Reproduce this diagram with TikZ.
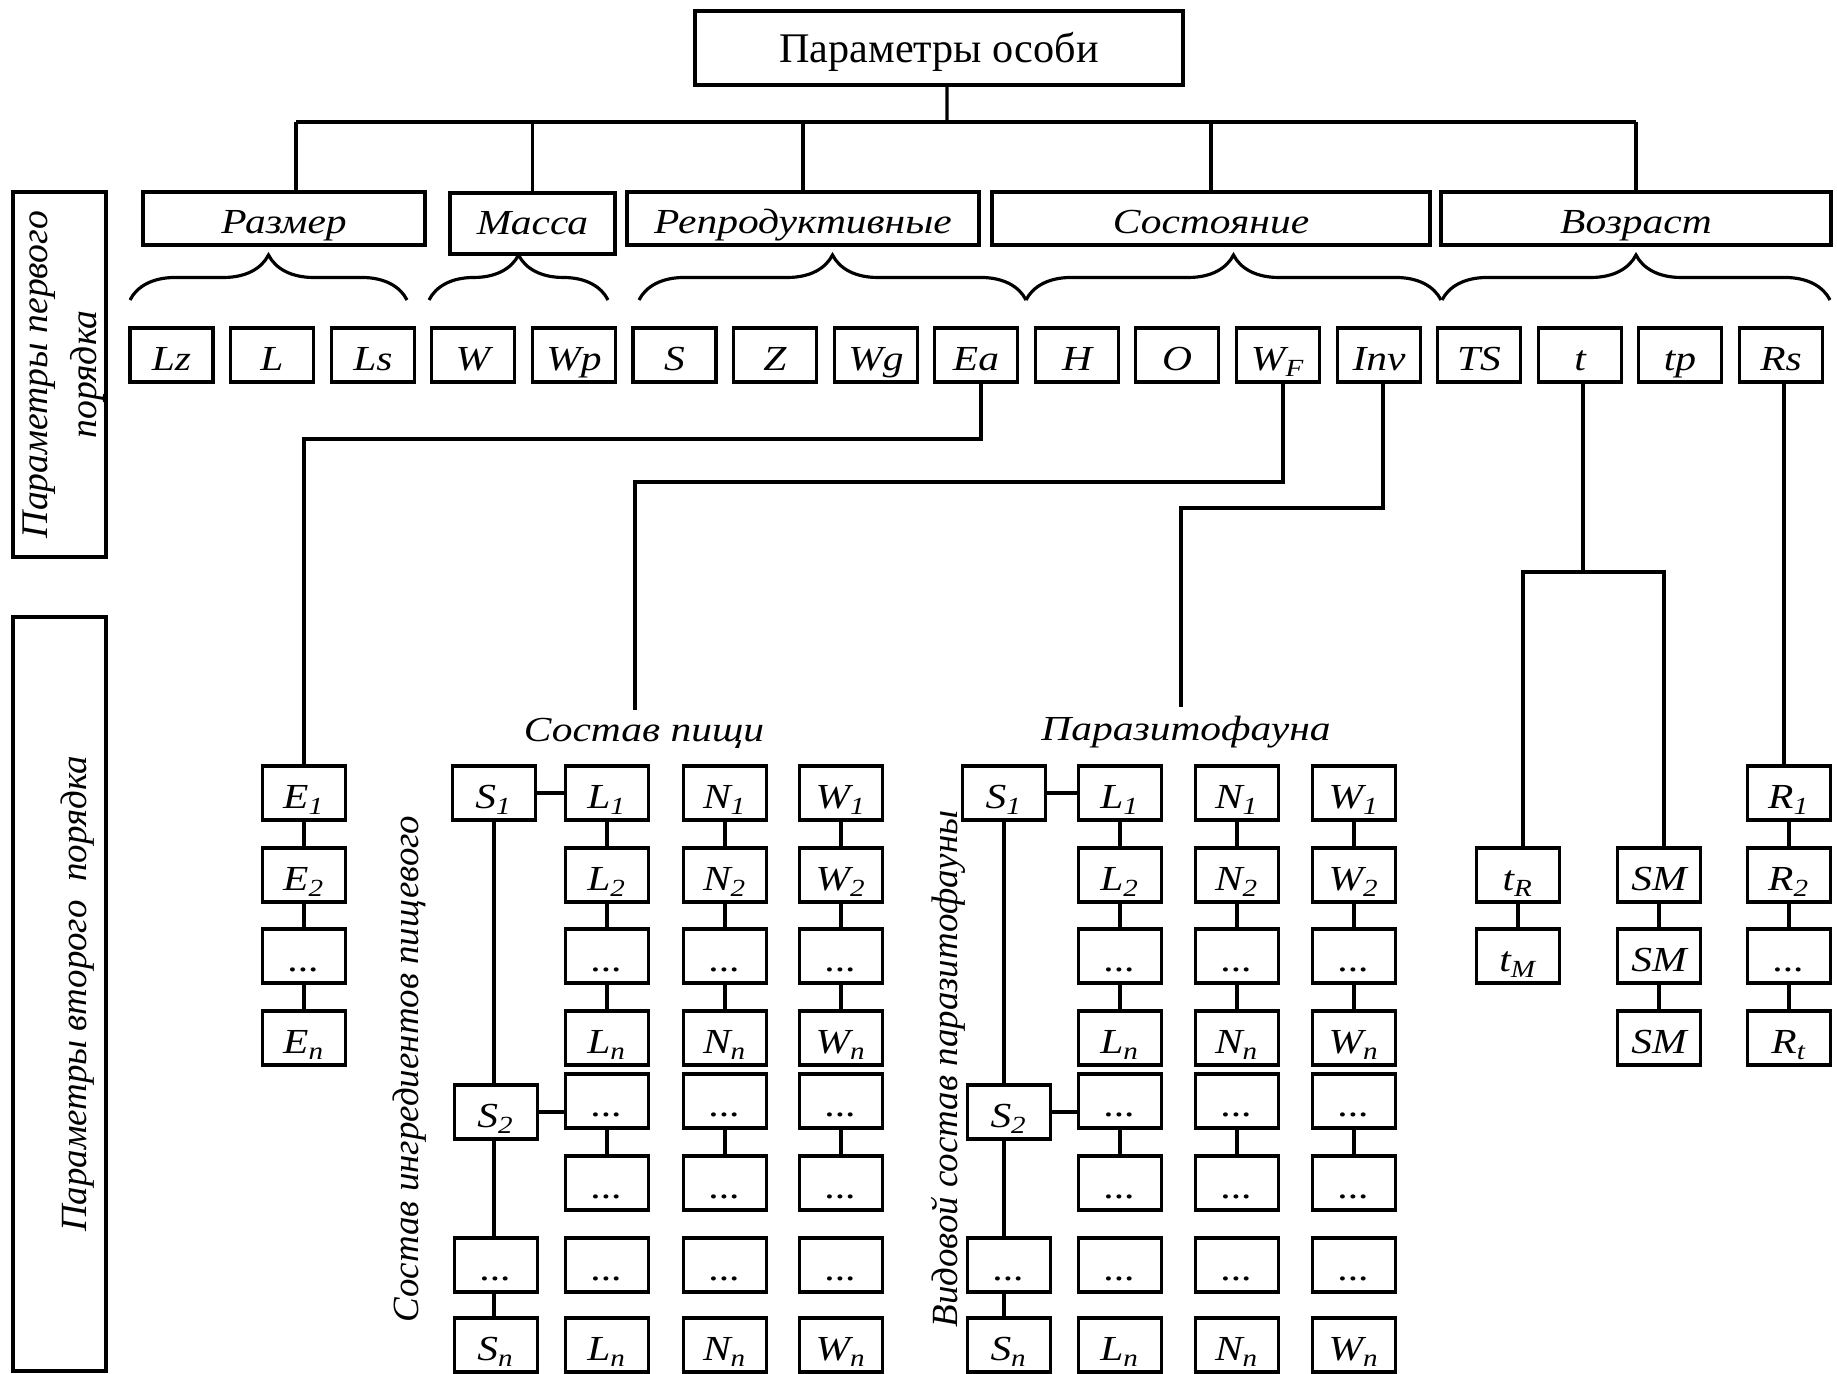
\documentclass[tikz,border=0pt]{standalone}
\usepackage{fontspec}
\setmainfont{Liberation Serif}
\newfontfamily\wideit[FakeStretch=1.18]{Liberation Serif}
\usetikzlibrary{decorations.pathreplacing}
\newcommand{\ix}[1]{\textsubscript{#1}}
\tikzset{
  bx/.style={draw, line width=1.1pt, minimum width=0.83cm, minimum height=0.54cm, inner sep=0pt,
    font=\wideit\itshape\fontsize{10}{12}\selectfont, text height=10pt, text depth=1pt},
  cat/.style={draw, line width=1.1pt, minimum height=0.53cm, inner sep=0pt,
    font=\wideit\itshape\fontsize{10}{12}\selectfont, text height=10pt, text depth=1.5pt},
  lblw/.style={font=\wideit\itshape\fontsize{10}{12}\selectfont},
  lbl/.style={font=\itshape\fontsize{10.5}{14}\selectfont},
  ln/.style={line width=0.9pt},
  brc/.style={line width=0.9pt, decorate, decoration={brace, amplitude=0.45cm}}
}

\begin{document}
\begin{tikzpicture}[x=0.01cm, y=-0.01cm]
			%%%%% START %%%%%
			\useasboundingbox (0,0) rectangle (1837,1374);
			
			\node[draw, line width=1.1pt, minimum width=4.88cm, minimum height=0.74cm, inner sep=0pt, font=\fontsize{12}{14}\selectfont, text height=10pt, text depth=2pt] (root) at (939,48) {Параметры особи};
			
			\node[draw, line width=1.1pt, rotate=90, minimum width=3.65cm, minimum height=0.93cm, inner sep=0pt, align=center, font=\itshape\fontsize{10.7}{14}\selectfont, text height=23.5pt, text depth=2.5pt] (ord1) at (59.5,374.5) {Параметры первого\\порядка};
			\node[draw, line width=1.1pt, rotate=90, minimum width=7.54cm, minimum height=0.93cm, inner sep=0pt, lbl, text height=16.6pt, text depth=1pt] (ord2) at (59.5,994) {Параметры второго\ \ порядка};
			
			\node[cat, minimum width=2.82cm] (razmer) at (284,218.5) {Размер};
			\node[cat, minimum width=1.65cm, minimum height=0.61cm, text depth=3.8pt] (massa) at (532.5,223.5) {Масса};
			\node[cat, minimum width=3.52cm] (repr) at (803,218.5) {Репродуктивные};
			\node[cat, minimum width=4.37cm] (sost) at (1211,218.5) {Состояние};
			\node[cat, minimum width=3.9cm] (vozrast) at (1636,218.5) {Возраст};
			
			\coordinate (bus) at (947,122);
			\draw[ln] ([xshift=0.08cm]root.south) -- (bus);
			\draw[ln] ([xshift=0.12cm]razmer.north |- bus) -- (vozrast.north |- bus);
			\draw[ln] ([xshift=0.12cm]razmer.north |- bus) -- ([xshift=0.12cm]razmer.north);
			\draw[ln] (massa.north |- bus) -- (massa.north);
			\draw[ln] (repr.north |- bus) -- (repr.north);
			\draw[ln] (sost.north |- bus) -- (sost.north);
			\draw[ln] (vozrast.north |- bus) -- (vozrast.north);
			
			\draw[brc] (130,300) -- (407,300);
			\draw[brc] (429,300) -- (608,300);
			\draw[brc] (639,300) -- (1026,300);
			\draw[brc] (1026,300) -- (1441,300);
			\draw[brc] (1442,300) -- (1830,300);
			
			\node[bx] (pLz) at (171.5,355) {Lz};
			\node[bx] (pL) at (272,355) {L};
			\node[bx] (pLs) at (373,355) {Ls};
			\node[bx] (pW) at (473,355) {W};
			\node[bx] (pWp) at (574,355) {Wp};
			\node[bx] (pS) at (674.5,355) {S};
			\node[bx] (pZ) at (775,355) {Z};
			\node[bx] (pWg) at (876,355) {Wg};
			\node[bx] (pEa) at (976,355) {Ea};
			\node[bx] (pH) at (1077,355) {H};
			\node[bx] (pO) at (1177,355) {O};
			\node[bx] (pWF) at (1278,355) {W\ix{F}};
			\node[bx] (pInv) at (1379,355) {Inv};
			\node[bx] (pTS) at (1479,355) {TS};
			\node[bx] (pt) at (1580,355) {t};
			\node[bx] (ptp) at (1680,355) {tp};
			\node[bx] (pRs) at (1781,355) {Rs};
			
			% E
			\node[bx] (e1) at (304,793) {E\ix{1}};
			\node[bx] (e2) at (304,875) {E\ix{2}};
			\node[bx] (e3) at (304,956) {...};
			\node[bx] (en) at (304,1038) {E\ix{n}};
			\draw[ln] ([xshift=0.05cm]pEa.south) -- ++(0,55) -| (e1.north);
			\draw[ln] (e1) -- (e2) (e2) -- (e3) (e3) -- (en);
			
			% food
			\node[lblw, anchor=base] (foodLbl) at (644,742) {Состав пищи};
			\node[lbl, rotate=90, anchor=base] (ingrLbl) at (418,1069) {Состав ингредиентов пищевого};
			\coordinate (foodTop) at (635,710);
			\draw[ln] ([xshift=0.05cm]pWF.south) -- ++(0,98) -| (foodTop);
			
			\node[bx] (fS1) at (494,793) {S\ix{1}};
			\node[bx] (fS2) at (496,1112) {S\ix{2}};
			\node[bx] (fS3) at (496,1265) {...};
			\node[bx] (fSn) at (496,1345) {S\ix{n}};
			
			\node[bx] (fL1) at (607,793) {L\ix{1}};
			\node[bx] (fL2) at (607,875) {L\ix{2}};
			\node[bx] (fL3) at (607,956) {...};
			\node[bx] (fL4) at (607,1038) {L\ix{n}};
			\node[bx] (fL5) at (607,1101) {...};
			\node[bx] (fL6) at (607,1183) {...};
			\node[bx] (fL7) at (607,1265) {...};
			\node[bx] (fL8) at (607,1345) {L\ix{n}};
			
			\node[bx] (fN1) at (725,793) {N\ix{1}};
			\node[bx] (fN2) at (725,875) {N\ix{2}};
			\node[bx] (fN3) at (725,956) {...};
			\node[bx] (fN4) at (725,1038) {N\ix{n}};
			\node[bx] (fN5) at (725,1101) {...};
			\node[bx] (fN6) at (725,1183) {...};
			\node[bx] (fN7) at (725,1265) {...};
			\node[bx] (fN8) at (725,1345) {N\ix{n}};
			
			\node[bx] (fW1) at (841,793) {W\ix{1}};
			\node[bx] (fW2) at (841,875) {W\ix{2}};
			\node[bx] (fW3) at (841,956) {...};
			\node[bx] (fW4) at (841,1038) {W\ix{n}};
			\node[bx] (fW5) at (841,1101) {...};
			\node[bx] (fW6) at (841,1183) {...};
			\node[bx] (fW7) at (841,1265) {...};
			\node[bx] (fW8) at (841,1345) {W\ix{n}};
			
			\draw[ln] (fS1.south) -- (fS1.south |- fS2.north) (fS2.south -| fS1) -- (fS3.north -| fS1) (fS3.south -| fS1) -- (fSn.north -| fS1);
			\draw[ln] (fS1) -- (fL1);
			\draw[ln] (fS2.east) -- (fS2.east -| fL5.west);
			\draw[ln] (fL1) -- (fL2) (fL2) -- (fL3) (fL3) -- (fL4) (fL5) -- (fL6);
			\draw[ln] (fN1) -- (fN2) (fN2) -- (fN3) (fN3) -- (fN4) (fN5) -- (fN6);
			\draw[ln] (fW1) -- (fW2) (fW2) -- (fW3) (fW3) -- (fW4) (fW5) -- (fW6);
			
			% parasites
			\node[lblw, anchor=base] (parLbl) at (1186,741) {Паразитофауна};
			\node[lbl, rotate=90, anchor=base] (vidLbl) at (957,1069) {Видовой состав паразитофауны};
			\coordinate (parTop) at (1181,707);
			\draw[ln] ([xshift=0.04cm]pInv.south) -- ++(0,124) -| (parTop);
			
			\node[bx] (vS1) at (1004,793) {S\ix{1}};
			\node[bx] (vS2) at (1009,1112) {S\ix{2}};
			\node[bx] (vS3) at (1009,1265) {...};
			\node[bx] (vSn) at (1009,1345) {S\ix{n}};
			
			\node[bx] (vL1) at (1120,793) {L\ix{1}};
			\node[bx] (vL2) at (1120,875) {L\ix{2}};
			\node[bx] (vL3) at (1120,956) {...};
			\node[bx] (vL4) at (1120,1038) {L\ix{n}};
			\node[bx] (vL5) at (1120,1101) {...};
			\node[bx] (vL6) at (1120,1183) {...};
			\node[bx] (vL7) at (1120,1265) {...};
			\node[bx] (vL8) at (1120,1345) {L\ix{n}};
			
			\node[bx] (vN1) at (1237,793) {N\ix{1}};
			\node[bx] (vN2) at (1237,875) {N\ix{2}};
			\node[bx] (vN3) at (1237,956) {...};
			\node[bx] (vN4) at (1237,1038) {N\ix{n}};
			\node[bx] (vN5) at (1237,1101) {...};
			\node[bx] (vN6) at (1237,1183) {...};
			\node[bx] (vN7) at (1237,1265) {...};
			\node[bx] (vN8) at (1237,1345) {N\ix{n}};
			
			\node[bx] (vW1) at (1354,793) {W\ix{1}};
			\node[bx] (vW2) at (1354,875) {W\ix{2}};
			\node[bx] (vW3) at (1354,956) {...};
			\node[bx] (vW4) at (1354,1038) {W\ix{n}};
			\node[bx] (vW5) at (1354,1101) {...};
			\node[bx] (vW6) at (1354,1183) {...};
			\node[bx] (vW7) at (1354,1265) {...};
			\node[bx] (vW8) at (1354,1345) {W\ix{n}};
			
			\draw[ln] (vS1.south) -- (vS1.south |- vS2.north) (vS2.south -| vS1) -- (vS3.north -| vS1) (vS3.south -| vS1) -- (vSn.north -| vS1);
			\draw[ln] (vS1) -- (vL1);
			\draw[ln] (vS2.east) -- (vS2.east -| vL5.west);
			\draw[ln] (vL1) -- (vL2) (vL2) -- (vL3) (vL3) -- (vL4) (vL5) -- (vL6);
			\draw[ln] (vN1) -- (vN2) (vN2) -- (vN3) (vN3) -- (vN4) (vN5) -- (vN6);
			\draw[ln] (vW1) -- (vW2) (vW2) -- (vW3) (vW3) -- (vW4) (vW5) -- (vW6);
			
			% age
			\node[bx] (tR) at (1518,875) {t\ix{R}};
			\node[bx] (tM) at (1518,956) {t\ix{M}};
			\node[bx] (sm1) at (1659,875) {SM};
			\node[bx] (sm2) at (1659,956) {SM};
			\node[bx] (sm3) at (1659,1038) {SM};
			\draw[ln] ([xshift=0.03cm]pt.south) -- ++(0,188) coordinate (tFork);
			\draw[ln] ([xshift=0.05cm]tR.north) |- (tFork) -| ([xshift=0.05cm]sm1.north);
			\draw[ln] (tR) -- (tM);
			\draw[ln] (sm1) -- (sm2) (sm2) -- (sm3);
			
			\node[bx] (r1) at (1789,793) {R\ix{1}};
			\node[bx] (r2) at (1789,875) {R\ix{2}};
			\node[bx] (r3) at (1789,956) {...};
			\node[bx] (rt) at (1789,1038) {R\ix{t}};
			\draw[ln] ([xshift=-0.05cm]r1.north) -- ([xshift=-0.05cm]r1.north |- pRs.south);
			\draw[ln] (r1) -- (r2) (r2) -- (r3) (r3) -- (rt);
			
			%%%%% END %%%%%
\end{tikzpicture}
\end{document}
